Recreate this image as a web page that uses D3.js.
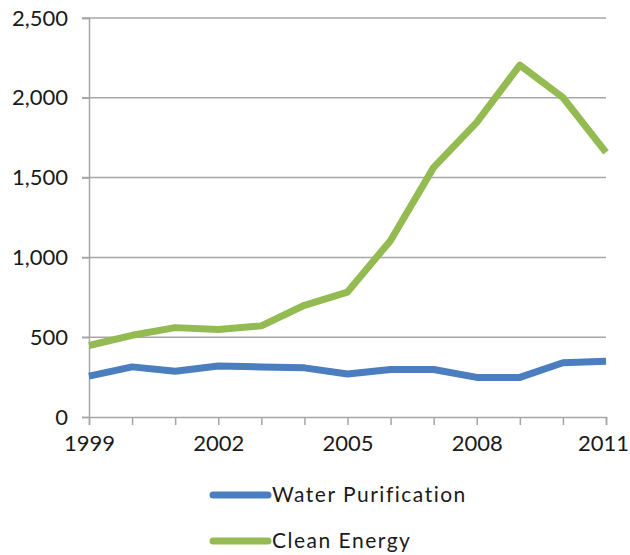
<!DOCTYPE html>
<html>
<head>
<meta charset="utf-8">
<script src="https://cdn.jsdelivr.net/npm/d3@7"></script>
<style>
  html, body { margin: 0; padding: 0; background: #fff; }
  svg text { font-family: "Lato", "DejaVu Sans", sans-serif; fill: #1a1a1a; }
</style>
</head>
<body>
<svg id="chart" width="630" height="555"></svg>
<script>
// Years on the x axis
const years = [1999, 2000, 2001, 2002, 2003, 2004, 2005, 2006, 2007, 2008, 2009, 2010, 2011];
// Series values
const waterPurification = [256, 314, 287, 320, 314, 308, 269, 298, 298, 248, 248, 340, 350];
const cleanEnergy = [448, 512, 560, 548, 571, 700, 783, 1106, 1564, 1846, 2205, 2002, 1658];
// Axis tick values
const yTicks = [0, 500, 1000, 1500, 2000, 2500];
const xLabelYears = [1999, 2002, 2005, 2008, 2011];

const seriesList = [
  { name: "Water Purification", values: waterPurification, color: "#4A7EBF" },
  { name: "Clean Energy", values: cleanEnergy, color: "#94BB52" }
];

const svg = d3.select("#chart");
const margin = { left: 89, right: 24, top: 18, bottom: 138 };
const width = 630, height = 555;

const x = d3.scaleLinear().domain([1999, 2011]).range([margin.left, width - margin.right]);
const y = d3.scaleLinear().domain([0, 2500]).range([height - margin.bottom, margin.top]);

// Horizontal gridlines
svg.append("g")
  .selectAll("line")
  .data(yTicks.filter(d => d > 0))
  .join("line")
  .attr("x1", x(1999) - 7).attr("x2", x(2011))
  .attr("y1", d => y(d)).attr("y2", d => y(d))
  .attr("stroke", "#a6a6a6").attr("stroke-width", 1.5);

// Y axis
const yAxis = svg.append("g")
  .attr("transform", `translate(${x(1999)},0)`)
  .call(d3.axisLeft(y).tickValues(yTicks).tickSize(7).tickPadding(14)
    .tickFormat(d3.format(",")));
yAxis.select(".domain").attr("stroke", "#a6a6a6").attr("stroke-width", 1.5);
yAxis.selectAll(".tick line").attr("stroke", "#a6a6a6").attr("stroke-width", 1.5);
yAxis.selectAll("text").attr("font-size", 22).attr("fill", "#1a1a1a");

// X axis
const xAxis = svg.append("g")
  .attr("transform", `translate(0,${y(0)})`)
  .call(d3.axisBottom(x).tickValues(years).tickSize(8).tickPadding(10)
    .tickFormat(d => xLabelYears.includes(d) ? String(d) : ""));
xAxis.select(".domain").attr("stroke", "#a6a6a6").attr("stroke-width", 1.5);
xAxis.selectAll(".tick line").attr("stroke", "#a6a6a6").attr("stroke-width", 1.5);
xAxis.selectAll("text").attr("font-size", 22).attr("fill", "#1a1a1a")
  .attr("dx", d => d === 2011 ? -3 : 0);

// Series lines
const line = d3.line()
  .x((d, i) => x(years[i]))
  .y(d => y(d));

svg.append("g")
  .selectAll("path")
  .data(seriesList)
  .join("path")
  .attr("d", d => line(d.values))
  .attr("fill", "none")
  .attr("stroke", d => d.color)
  .attr("stroke-width", 7)
  .attr("stroke-linejoin", "round");

// Legend
const legend = svg.append("g");
const legendItems = legend.selectAll("g")
  .data(seriesList)
  .join("g")
  .attr("transform", (d, i) => `translate(213,${495 + i * 46})`);
legendItems.append("line")
  .attr("x1", 0).attr("x2", 55)
  .attr("stroke", d => d.color)
  .attr("stroke-width", 7)
  .attr("stroke-linecap", "round");
legendItems.append("text")
  .attr("x", 59).attr("dy", "0.35em")
  .attr("font-size", 21)
  .attr("letter-spacing", 1.5)
  .text(d => d.name);
</script>
</body>
</html>
